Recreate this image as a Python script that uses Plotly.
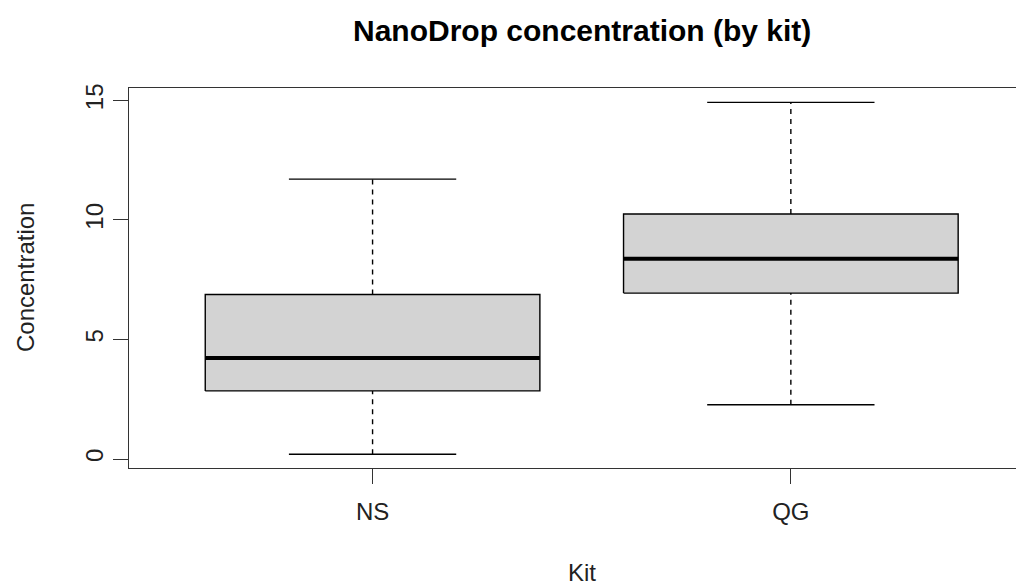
import plotly.graph_objects as go

kits = ["NS", "QG"]
positions = [1, 2]
lower_whisker = [0.20, 2.27]
q1 = [2.85, 6.94]
median = [4.23, 8.38]
q3 = [6.88, 10.25]
upper_whisker = [11.71, 14.92]
y_ticks = [0, 5, 10, 15]

BOX_HALF = 0.4
CAP_HALF = 0.2
FONT = "Liberation Sans, Arial, sans-serif"
LW = 1.4

fig = go.Figure()
for i, k in enumerate(kits):
    p = positions[i]
    # dashed whiskers
    fig.add_trace(go.Scatter(x=[p, p], y=[q3[i], upper_whisker[i]], mode="lines",
                             line=dict(color="black", width=LW, dash="5px,5px"),
                             showlegend=False, hoverinfo="skip"))
    fig.add_trace(go.Scatter(x=[p, p], y=[lower_whisker[i], q1[i]], mode="lines",
                             line=dict(color="black", width=LW, dash="5px,5px"),
                             showlegend=False, hoverinfo="skip"))
    # caps
    for v in (lower_whisker[i], upper_whisker[i]):
        fig.add_trace(go.Scatter(x=[p - CAP_HALF, p + CAP_HALF], y=[v, v], mode="lines",
                                 line=dict(color="black", width=LW),
                                 showlegend=False, hoverinfo="skip"))
    # box
    fig.add_trace(go.Scatter(x=[p - BOX_HALF, p + BOX_HALF, p + BOX_HALF, p - BOX_HALF, p - BOX_HALF],
                             y=[q1[i], q1[i], q3[i], q3[i], q1[i]], mode="lines",
                             fill="toself", fillcolor="#D3D3D3",
                             line=dict(color="black", width=LW),
                             showlegend=False, hoverinfo="skip"))
    # median
    fig.add_trace(go.Scatter(x=[p - BOX_HALF, p + BOX_HALF], y=[median[i], median[i]], mode="lines",
                             line=dict(color="black", width=4),
                             showlegend=False, hoverinfo="skip"))

fig.update_layout(
    width=1016, height=580,
    margin=dict(l=121, r=0, t=80, b=120),
    plot_bgcolor="white", paper_bgcolor="white",
    font=dict(family=FONT, color="black", size=25),
    showlegend=False,
    xaxis=dict(range=[0.4177, 2.5574], tickmode="array", tickvals=positions, ticktext=kits,
               showgrid=False, zeroline=False, showline=True, mirror=True,
               linecolor="#333333", linewidth=LW, ticks="outside", ticklen=15,
               tickcolor="#333333", tickwidth=LW, ticklabelstandoff=7,
               tickfont=dict(size=24, color="#222222")),
    yaxis=dict(range=[-0.376, 15.52], tickmode="array", tickvals=y_ticks,
               showgrid=False, zeroline=False, showline=True, mirror=False,
               linecolor="#333333", linewidth=LW, ticks="outside", ticklen=15,
               tickcolor="#333333", tickwidth=LW, tickangle=-90,
               tickfont=dict(size=24, color="#222222")),
    annotations=[
        dict(text="<b>NanoDrop concentration (by kit)</b>", xref="x", yref="paper", x=1.5, y=1,
             yshift=58, showarrow=False, font=dict(size=30, color="black"),
             xanchor="center", yanchor="middle"),
        dict(text="Kit", xref="x", yref="paper", x=1.5, y=0, yshift=-104, showarrow=False,
             font=dict(size=24, color="#222222"), xanchor="center", yanchor="middle"),
        dict(text="Concentration", xref="paper", yref="paper", x=0, y=0.5, xshift=-104,
             textangle=-90, showarrow=False, font=dict(size=24, color="#222222"),
             xanchor="center", yanchor="middle"),
    ],
)

fig.write_html("out.html")
